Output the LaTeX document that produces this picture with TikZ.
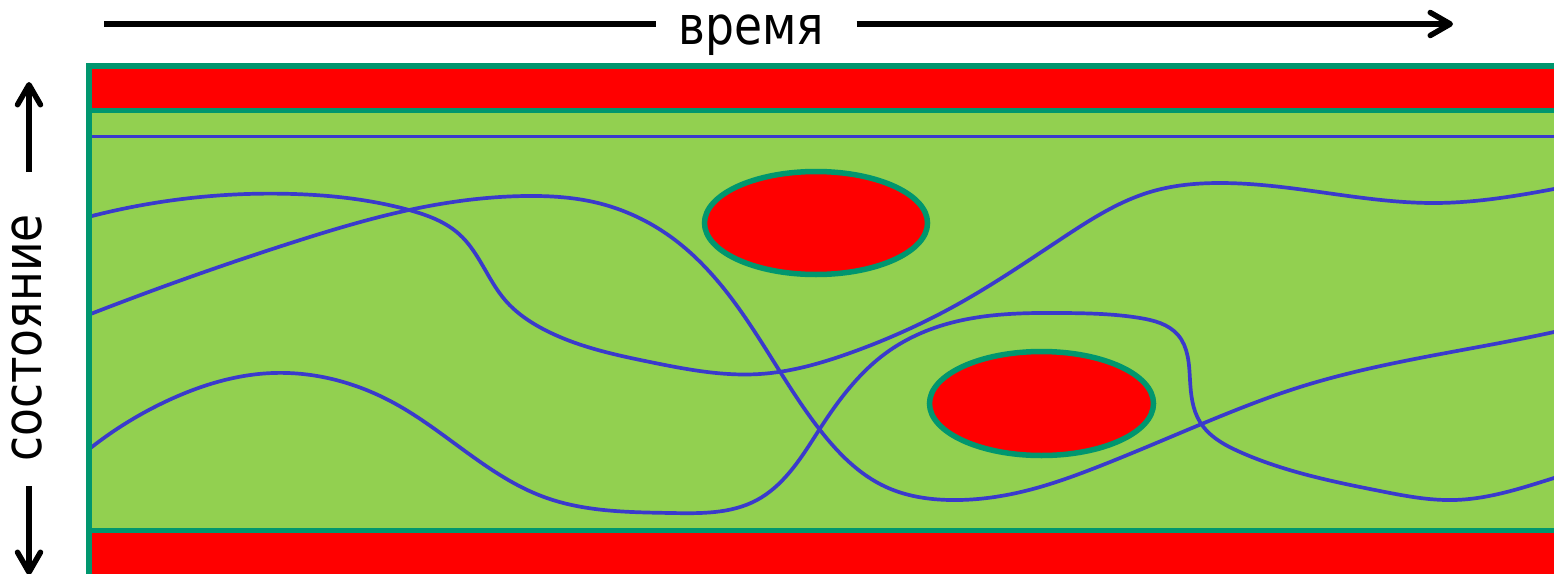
\documentclass[tikz,border=0pt]{standalone}
\usepackage{fontspec}
\setmainfont{DejaVu Sans}[FakeStretch=0.86]
\usepackage{xcolor}
\usepackage{tikz}
\usetikzlibrary{arrows.meta,hobby}
\definecolor{grass}{RGB}{146,208,80}
\definecolor{wallteal}{RGB}{0,150,110}
\definecolor{pathblue}{RGB}{58,58,204}

\begin{document}
\begin{tikzpicture}[x=1pt,y=-1pt,
  wall/.style={wallteal,line width=5.5pt},
  traj/.style={pathblue,line width=3.7pt,use Hobby shortcut},
  hole/.style={wall,fill=red},
  axis/.style={line width=5.5pt,-{Straight Barb[length=20pt,width=23pt,round]}},
  label/.style={font=\fontsize{53}{53}\selectfont,inner sep=0pt}]
  \useasboundingbox (0,0) rectangle (1554,573);
  \clip (0,0) rectangle (1554,573);

  \fill[grass] (88.8,66) rectangle (1570,600);
  \fill[red] (88.8,66) rectangle (1570,110.5);
  \fill[red] (88.8,530.5) rectangle (1570,600);

  \draw[pathblue,line width=3.7pt] (88.8,136.5) -- (1570,136.5);
  \draw[traj] (88,217) .. (294,194) .. (409,210) .. (459,234) .. (505,300) .. (545,330) .. (650,362) .. (760,374) .. (850,353) .. (960,303) .. (1064,237) .. (1150,192) .. (1220,183) .. (1435,203) .. (1554,189) .. (1580,184);
  \draw[traj] (88,315) .. (294,242) .. (409,210) .. (526,196) .. (598,203) .. (671,237) .. (725,290) .. (820,430) .. (886,487) .. (950,500) .. (1029,490) .. (1100,466) .. (1204,423) .. (1300,387) .. (1554,332) .. (1580,326);
  \draw[traj] (88,450) .. (169,400) .. (273,373) .. (394,403) .. (544,497) .. (671,513) .. (757,500) .. (789,473) .. (821,427) .. (886,353) .. (940,326) .. (1064,313) .. (1140,318) .. (1178,335) .. (1190,380) .. (1200,422) .. (1240,452) .. (1380,491) .. (1454,500) .. (1554,478) .. (1580,470);

  \draw[hole] (816,223) ellipse [x radius=111.5, y radius=51.5];
  \draw[hole] (1041.5,403.5) ellipse [x radius=112, y radius=52];

  \draw[wall] (1570,66) -- (88.8,66) -- (88.8,600);
  \draw[wall] (88.8,110.5) -- (1570,110.5);
  \draw[wall] (88.8,530.5) -- (1570,530.5);

  \node[label,anchor=base] (time) at (751.5,44) {время};
  \coordinate (timeL) at (104,24);
  \coordinate (timeR) at (1453,24);
  \draw[line width=5.5pt] (timeL) -- ([xshift=-22pt]timeL -| time.west);
  \draw[axis] ([xshift=32pt]timeL -| time.east) -- (timeR);

  \node[label,rotate=90] (state) at (27,338) {состояние};
  \coordinate (upFoot) at (29,172);
  \coordinate (upTip) at (29,82);
  \coordinate (downFoot) at (29,486);
  \coordinate (downTip) at (29,575);
  \draw[axis] (upFoot) -- (upTip);
  \draw[axis] (downFoot) -- (downTip);
\end{tikzpicture}
\end{document}
